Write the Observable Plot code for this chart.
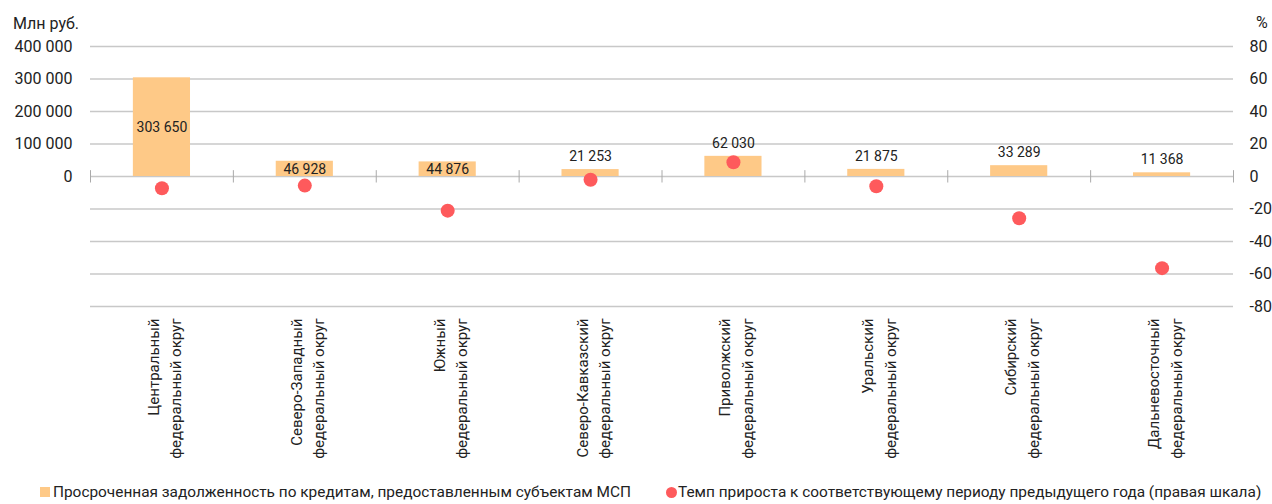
<!DOCTYPE html>
<html><head><meta charset="utf-8">
<script src="https://cdn.jsdelivr.net/npm/d3@7"></script>
<script src="https://cdn.jsdelivr.net/npm/@observablehq/plot@0.6"></script>
<style>
body{margin:0;background:#fff;font-family:Roboto,sans-serif;color:#222;}
#wrap{position:relative;width:1272px;height:504px;overflow:hidden;}
#chart{position:absolute;left:0;top:0;}
.unit{position:absolute;font-size:16px;line-height:16px;color:#222;}
.legend{position:absolute;top:483px;font-size:15.4px;letter-spacing:0px;line-height:18px;color:#222;display:flex;align-items:center;white-space:nowrap;}
.sw{display:inline-block;width:10px;height:10px;margin-right:3px;}
</style></head><body><div id="wrap">
<div id="chart"></div>
<div class="unit" style="left:13px;top:16px;">Млн руб.</div>
<div class="unit" style="left:1256px;top:15px;">%</div>
<div class="legend" style="left:40px;"><span class="sw" style="background:#fec987"></span>Просроченная задолженность по кредитам, предоставленным субъектам МСП</div>
<div class="legend" style="left:666px;"><span class="sw" style="background:#fe5a5c;border-radius:50%;width:11px;height:11px;margin-right:1px;"></span>Темп прироста к соответствующему периоду предыдущего года (правая шкала)</div>
</div>
<script>
const districts = [
  "Центральный\nфедеральный округ",
  "Северо-Западный\nфедеральный округ",
  "Южный\nфедеральный округ",
  "Северо-Кавказский\nфедеральный округ",
  "Приволжский\nфедеральный округ",
  "Уральский\nфедеральный округ",
  "Сибирский\nфедеральный округ",
  "Дальневосточный\nфедеральный округ"
];
const overdue = [303650, 46928, 44876, 21253, 62030, 21875, 33289, 11368];
const growth = [-7.2, -5.6, -21, -2, 8.8, -6, -25.7, -56.4];
const leftTicks = [0, 100000, 200000, 300000, 400000];
const rightTicks = [-80, -60, -40, -20, 0, 20, 40, 60, 80];

const ratio = 400000 / 80;
const data = districts.map((d, i) => ({d, v: overdue[i], g: growth[i], i}));
const fmt = d3.formatLocale({thousands: " ", grouping: [3], decimal: ",", currency: ["", ""]}).format(",");
const W = 1272, ML = 90, MR = 39;
const step = (W - ML - MR) / districts.length;
const insideEnd = new Set([1, 2]);

const chart = Plot.plot({
  width: W, height: 470,
  marginTop: 46, marginBottom: 164, marginLeft: ML, marginRight: MR,
  style: {fontFamily: "Roboto, sans-serif", fontSize: "16px", color: "#222", background: "#fff"},
  x: {domain: districts, paddingInner: 0.6, paddingOuter: 0.3, round: false},
  y: {domain: [-400000, 400000]},
  marks: [
    Plot.ruleY(rightTicks.map(t => t * ratio), {stroke: "#c8c8c8", strokeWidth: 1.4}),
    Plot.barY(data, {x: "d", y: "v", fill: "#fec987"}),
    Plot.ruleX(districts, {x: d => d, dx: -step / 2, y1: -20000, y2: 18000, stroke: "#aaa", strokeWidth: 1}),
    Plot.ruleX(districts.slice(-1), {x: d => d, dx: step / 2, y1: -20000, y2: 18000, stroke: "#aaa", strokeWidth: 1}),
    Plot.dot(data, {x: "d", y: d => d.g * ratio, r: 7, fill: "#fe5a5c", stroke: "none"}),
    Plot.text(data.filter(d => d.v > 200000), {x: "d", y: d => d.v / 2, text: d => fmt(d.v), fontSize: 14, fill: "#222"}),
    Plot.text(data.filter(d => d.v <= 200000 && insideEnd.has(d.i)), {x: "d", y: "v", dy: 8, text: d => fmt(d.v), fontSize: 14, fill: "#222"}),
    Plot.text(data.filter(d => d.v <= 200000 && !insideEnd.has(d.i)), {x: "d", y: "v", dy: -13, text: d => fmt(d.v), fontSize: 14, fill: "#222"}),
    Plot.text(data, {x: "d", frameAnchor: "bottom", dy: 12, rotate: -90, textAnchor: "end", lineAnchor: "middle", lineHeight: 1.5, text: "d", fontSize: 15, fill: "#222", dx: 1}),
    Plot.axisY(leftTicks, {anchor: "left", tickSize: 0, tickPadding: 18, tickFormat: fmt, fontSize: 16, label: null}),
    Plot.axisY(rightTicks.map(t => t * ratio), {anchor: "right", tickSize: 0, tickPadding: 16, tickFormat: d => String(d / ratio), fontSize: 16, label: null}),
    Plot.axisX({ticks: [], label: null, tickSize: 0})
  ]
});
document.getElementById("chart").appendChild(chart);
</script>
</body></html>
